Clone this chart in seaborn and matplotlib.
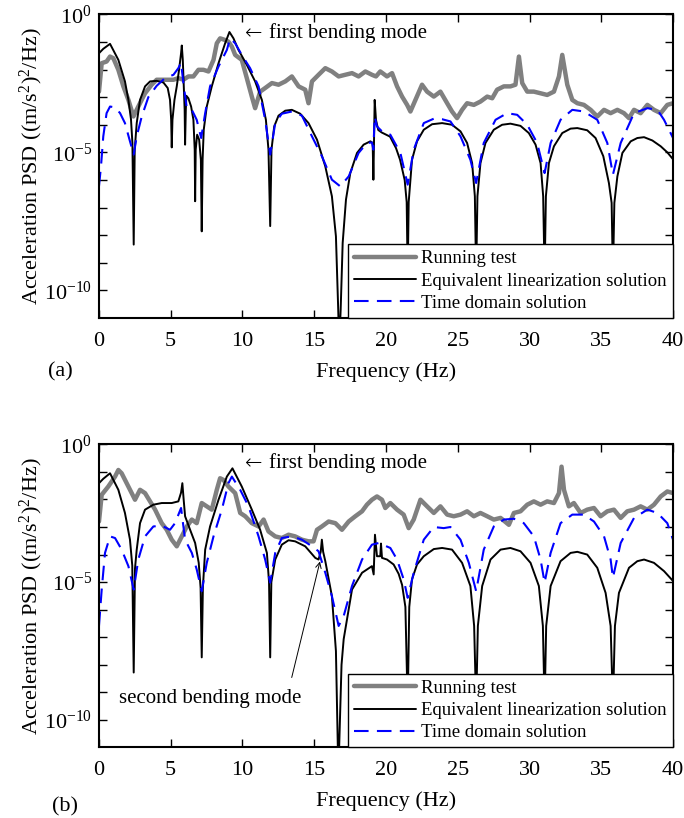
import numpy as np
import matplotlib
matplotlib.use('Agg')
import matplotlib.pyplot as plt
import seaborn as sns

### DATA (frequency in Hz, PSD given as log10) ###

# (a) running test
a_test_f = [0.0, 0.19, 0.53, 0.77, 1.0, 1.35, 1.70, 2.05, 2.40, 2.74, 3.21, 3.67, 4.02, 4.37, 4.72,
            5.19, 5.53, 5.88, 6.23, 6.58, 6.93, 7.28, 7.63, 7.98, 8.21, 8.44, 8.79, 9.02, 9.26, 9.49,
            9.95, 10.30, 10.65, 10.88, 11.23, 11.58, 12.05, 12.51, 12.98, 13.44, 13.91, 14.37, 14.60,
            14.84, 15.30, 15.77, 16.23, 16.70, 17.16, 17.63, 18.09, 18.56, 19.02, 19.30, 19.60, 20.07,
            20.42, 20.77, 21.12, 21.47, 21.70, 22.05, 22.51, 22.86, 23.33, 23.79, 24.26, 24.60, 24.95,
            25.30, 25.65, 26.12, 26.58, 27.05, 27.40, 27.74, 28.21, 28.67, 29.02, 29.26, 29.49, 29.84,
            30.30, 30.77, 31.23, 31.70, 32.05, 32.28, 32.63, 32.98, 33.33, 33.79, 34.26, 34.72, 35.19,
            35.65, 36.12, 36.58, 36.93, 37.28, 37.74, 38.21, 38.67, 39.14, 39.60, 40.0]
a_test_lg = [-2.80, -1.77, -1.71, -1.53, -1.59, -2.01, -2.61, -3.10, -3.70, -3.34, -2.86, -2.55, -2.37,
             -2.37, -2.37, -2.37, -2.31, -2.37, -2.25, -2.25, -2.01, -2.01, -2.07, -1.65, -1.05, -0.87,
             -0.93, -0.99, -1.17, -1.47, -1.65, -2.31, -2.98, -3.40, -2.80, -2.67, -2.49, -2.55, -2.43,
             -2.25, -2.61, -2.73, -3.22, -2.43, -2.19, -1.95, -2.07, -2.25, -2.19, -2.13, -2.25, -2.07,
             -2.19, -2.25, -2.07, -2.25, -2.13, -2.61, -2.98, -3.28, -3.52, -3.10, -2.55, -2.80, -2.98,
             -2.80, -3.22, -3.52, -3.76, -3.46, -3.22, -3.28, -3.16, -2.98, -3.04, -2.73, -2.61, -2.61,
             -2.55, -1.53, -2.49, -2.80, -2.80, -2.86, -2.92, -2.80, -2.25, -1.47, -2.55, -3.10, -3.22,
             -3.28, -3.46, -3.70, -3.46, -3.58, -3.46, -3.58, -3.76, -3.46, -3.58, -3.28, -3.46, -3.58,
             -3.28, -3.22]

# (a) equivalent linearization solution
a_eq_f = [0.0, 0.30, 0.77, 1.35, 1.81, 2.05, 2.23, 2.33, 2.42, 2.49, 2.63, 2.86, 3.21, 3.56, 4.02, 4.49,
          4.79, 4.95, 5.03, 5.07, 5.12, 5.26, 5.42, 5.58, 5.72, 5.77, 5.84, 5.91, 5.97, 6.00, 6.05, 6.09,
          6.23, 6.42, 6.58, 6.67, 6.70, 6.74, 6.84, 6.98, 7.10, 7.16, 7.22, 7.30, 7.51, 7.86, 8.33, 8.79,
          9.09, 9.37, 9.72, 10.30, 10.88, 11.35, 11.63, 11.81, 11.93, 12.02, 12.21, 12.51, 12.98, 13.44,
          14.02, 14.60, 15.19, 15.77, 16.23, 16.51, 16.67, 16.74, 16.84, 16.98, 17.21, 17.51, 17.98,
          18.44, 18.91, 19.07, 19.12, 19.16, 19.21, 19.30, 19.46, 19.70, 20.28, 20.70, 20.98, 21.30,
          21.44, 21.51, 21.58, 21.81, 22.16, 22.63, 23.21, 23.91, 24.60, 25.19, 25.65, 26.00, 26.19,
          26.28, 26.37, 26.58, 26.93, 27.51, 28.09, 28.67, 29.37, 29.95, 30.42, 30.77, 30.95, 31.05,
          31.14, 31.35, 31.70, 32.28, 32.86, 33.33, 34.02, 34.60, 35.14, 35.53, 35.72, 35.81, 35.91,
          36.12, 36.47, 37.05, 37.51, 37.98, 38.56, 39.14, 39.60, 40.0]
a_eq_lg = [-1.41, -1.25, -1.07, -1.65, -2.43, -3.10, -3.80, -4.66, -8.34, -4.90, -3.94, -3.10, -2.61,
           -2.43, -2.41, -2.47, -2.67, -3.10, -3.82, -4.82, -3.82, -3.10, -2.61, -2.01, -1.41, -1.13,
           -1.65, -2.61, -3.46, -4.72, -3.46, -2.95, -3.04, -3.34, -3.82, -4.90, -6.77, -4.90, -4.36,
           -4.54, -5.27, -7.86, -5.27, -4.18, -3.34, -2.61, -1.77, -1.05, -0.64, -0.87, -1.29, -1.83,
           -2.43, -3.10, -3.82, -4.90, -7.67, -4.90, -4.06, -3.67, -3.49, -3.46, -3.60, -3.94, -4.54,
           -5.51, -6.59, -8.04, -10.7, -12.0, -10.7, -8.28, -6.71, -5.75, -5.02, -4.72, -4.60, -4.66,
           -5.99, -4.66, -3.10, -3.82, -4.19, -4.28, -4.43, -4.85, -5.27, -6.00, -6.80, -9.50, -6.80,
           -5.27, -4.60, -4.18, -3.98, -3.94, -4.00, -4.24, -4.66, -5.39, -6.59, -9.50, -6.59, -5.39,
           -4.66, -4.18, -4.00, -3.96, -4.04, -4.30, -4.72, -5.39, -6.59, -9.50, -6.59, -5.39, -4.78,
           -4.30, -4.14, -4.12, -4.20, -4.48, -5.14, -6.11, -6.83, -9.50, -6.83, -5.87, -5.02, -4.60,
           -4.48, -4.45, -4.57, -4.78, -5.00, -5.25]

# (a) time domain solution
a_td_f = [0.0, 0.14, 0.30, 0.53, 0.77, 1.12, 1.47, 1.81, 2.16, 2.42, 2.63, 2.98, 3.44, 4.02, 4.60, 5.19,
          5.53, 5.72, 5.88, 6.12, 6.47, 6.81, 7.12, 7.40, 7.74, 8.33, 8.91, 9.14, 9.49, 9.95, 10.53,
          11.12, 11.58, 11.93, 12.28, 12.74, 13.44, 14.14, 14.84, 15.53, 16.23, 16.81, 17.40, 18.09,
          18.67, 19.02, 19.12, 19.21, 19.37, 19.72, 20.30, 21.0, 21.51, 21.93, 22.63, 23.33, 23.91,
          24.49, 25.19, 25.88, 26.28, 26.81, 27.63, 28.44, 29.14, 29.84, 30.53, 31.05, 31.47, 32.16,
          32.98, 33.79, 34.72, 35.42, 35.81, 36.35, 37.28, 38.21, 38.91, 39.37, 40.0]
a_td_lg = [-6.23, -5.51, -4.42, -3.58, -3.34, -3.37, -3.58, -3.94, -4.60, -5.08, -4.42, -3.70, -3.00,
           -2.59, -2.31, -2.19, -1.95, -1.75, -2.49, -3.40, -3.46, -3.82, -4.48, -3.58, -2.61, -1.89,
           -1.29, -0.87, -1.05, -1.47, -1.95, -2.61, -3.82, -5.08, -3.94, -3.60, -3.52, -3.67, -4.42,
           -5.14, -5.99, -6.23, -5.87, -5.02, -4.66, -4.64, -4.90, -3.70, -4.06, -4.24, -4.36, -5.02,
           -6.17, -4.90, -3.94, -3.78, -3.80, -3.88, -4.42, -5.27, -6.11, -4.66, -3.82, -3.58, -3.64,
           -4.00, -4.66, -5.75, -4.66, -3.82, -3.46, -3.52, -3.82, -4.66, -5.81, -4.66, -3.58, -3.40,
           -3.46, -3.82, -4.48]

# (b) running test
b_test_f = [0.0, 0.19, 0.65, 1.12, 1.35, 1.58, 1.93, 2.28, 2.51, 2.86, 3.21, 3.56, 3.91, 4.37, 4.72, 5.07,
            5.42, 5.77, 6.12, 6.47, 6.81, 7.16, 7.51, 7.86, 8.21, 8.44, 8.67, 9.02, 9.49, 9.84, 10.19,
            10.65, 11.12, 11.47, 11.81, 12.28, 12.74, 13.21, 13.67, 14.14, 14.60, 14.95, 15.19, 15.53,
            16.0, 16.47, 16.93, 17.40, 17.86, 18.33, 18.67, 19.02, 19.37, 19.72, 19.95, 20.30, 20.77,
            21.23, 21.58, 21.93, 22.40, 22.86, 23.33, 23.79, 24.26, 24.72, 25.19, 25.65, 26.12, 26.58,
            27.05, 27.51, 27.98, 28.56, 28.91, 29.37, 29.84, 30.30, 30.77, 31.23, 31.70, 32.05, 32.23,
            32.40, 32.74, 33.09, 33.56, 34.02, 34.49, 34.95, 35.42, 35.88, 36.35, 36.81, 37.28, 37.74,
            38.21, 38.67, 39.14, 39.60, 40.0]
b_test_lg = [-2.80, -1.83, -1.53, -1.17, -0.93, -1.05, -1.41, -1.77, -2.01, -1.65, -1.77, -2.07, -2.37,
             -2.86, -3.10, -3.46, -3.70, -3.34, -2.98, -2.73, -2.86, -2.13, -2.25, -2.37, -1.65, -1.23,
             -1.29, -1.53, -1.77, -2.49, -2.61, -2.86, -2.98, -2.73, -3.16, -3.34, -3.40, -3.28, -3.34,
             -3.46, -3.52, -3.52, -3.10, -2.98, -2.80, -2.86, -3.10, -2.80, -2.61, -2.43, -2.19, -2.01,
             -1.89, -2.01, -2.31, -2.13, -2.37, -2.55, -3.04, -2.73, -2.01, -2.25, -2.49, -2.25, -2.55,
             -2.61, -2.55, -2.43, -2.61, -2.49, -2.61, -2.73, -2.67, -2.92, -2.49, -2.43, -2.19, -2.07,
             -2.19, -2.07, -2.13, -1.77, -0.81, -1.65, -2.25, -2.13, -2.49, -2.37, -2.31, -2.61, -2.43,
             -2.37, -2.67, -2.43, -2.37, -2.25, -2.37, -2.19, -1.89, -1.71, -1.77]

# (b) equivalent linearization solution
b_eq_f = [0.0, 0.30, 0.77, 1.35, 1.81, 2.16, 2.32, 2.42, 2.51, 2.63, 2.86, 3.21, 3.79, 4.37, 5.07, 5.53,
          5.72, 5.81, 5.90, 6.00, 6.35, 6.70, 6.95, 7.08, 7.16, 7.24, 7.40, 7.74, 8.33, 8.91, 9.30, 9.95,
          10.65, 11.23, 11.70, 11.85, 11.93, 12.01, 12.28, 12.74, 13.21, 13.67, 14.37, 15.07, 15.30,
          15.45, 15.53, 15.62, 15.77, 16.23, 16.51, 16.68, 16.90, 17.05, 17.63, 18.33, 19.02, 19.14,
          19.23, 19.37, 19.60, 19.65, 19.72, 20.07, 20.53, 20.88, 21.12, 21.35, 21.51, 21.62, 21.81,
          22.16, 22.63, 23.33, 23.91, 24.60, 25.30, 25.88, 26.14, 26.28, 26.40, 26.70, 27.28, 27.98,
          28.67, 29.37, 30.07, 30.65, 30.93, 31.05, 31.16, 31.47, 32.16, 32.86, 33.33, 34.02, 34.72,
          35.30, 35.65, 35.81, 35.95, 36.23, 36.93, 37.51, 37.98, 38.67, 39.37, 40.0]
b_eq_lg = [-1.41, -1.25, -1.05, -1.65, -2.49, -3.46, -4.40, -8.28, -4.50, -3.82, -2.86, -2.37, -2.19,
           -2.13, -2.13, -2.07, -1.75, -1.41, -2.00, -2.61, -3.10, -3.58, -4.30, -5.20, -7.73, -5.20,
           -3.82, -2.98, -2.01, -1.17, -0.87, -1.53, -2.37, -3.10, -3.94, -5.00, -7.73, -5.00, -4.18,
           -3.64, -3.48, -3.52, -3.70, -4.12, -4.18, -3.90, -3.46, -3.90, -4.24, -5.51, -7.50, -12.0,
           -8.00, -7.07, -5.27, -4.66, -4.42, -4.72, -3.28, -4.06, -4.06, -3.60, -4.12, -4.18, -4.36,
           -4.70, -5.10, -5.90, -9.50, -5.90, -4.90, -4.36, -4.06, -3.80, -3.76, -3.82, -4.30, -5.14,
           -6.59, -9.50, -6.59, -5.14, -4.18, -3.82, -3.76, -3.88, -4.30, -5.14, -6.59, -9.50, -6.59,
           -5.14, -4.24, -3.94, -3.90, -4.00, -4.48, -5.39, -6.59, -9.50, -6.59, -5.39, -4.48, -4.24,
           -4.18, -4.30, -4.60, -4.96]

# (b) time domain solution
b_td_f = [0.0, 0.19, 0.42, 0.77, 1.12, 1.58, 2.05, 2.42, 2.74, 3.21, 3.79, 4.37, 4.95, 5.30, 5.72, 6.00,
          6.47, 6.81, 7.16, 7.51, 7.98, 8.56, 9.02, 9.26, 9.84, 10.42, 11.12, 11.58, 11.93, 12.28, 12.74,
          13.44, 14.14, 14.84, 15.30, 15.77, 16.23, 16.70, 17.05, 17.63, 18.33, 19.02, 19.49, 20.30,
          20.77, 21.23, 21.51, 21.93, 22.63, 23.33, 24.02, 24.49, 25.19, 25.77, 26.28, 26.81, 27.51,
          28.21, 28.91, 29.60, 30.30, 30.77, 31.05, 31.47, 32.16, 32.98, 33.79, 34.49, 35.19, 35.65,
          35.81, 36.35, 37.28, 38.21, 38.91, 39.60, 40.0]
b_td_lg = [-6.59, -5.27, -3.94, -3.34, -3.40, -3.82, -4.42, -5.27, -4.18, -3.34, -2.98, -2.95, -3.10,
           -2.86, -2.31, -3.46, -3.94, -4.54, -5.33, -4.30, -3.34, -2.37, -1.41, -1.17, -1.65, -2.25,
           -3.34, -4.18, -5.02, -3.94, -3.40, -3.34, -3.46, -3.70, -3.88, -4.66, -5.51, -6.59, -6.23,
           -5.14, -4.18, -3.64, -3.58, -3.76, -4.18, -4.90, -5.57, -4.66, -3.46, -3.00, -3.04, -3.00,
           -3.46, -4.30, -5.33, -3.82, -2.98, -2.73, -2.70, -2.86, -3.34, -4.18, -5.02, -3.94, -2.86,
           -2.55, -2.55, -2.80, -3.34, -4.18, -4.84, -3.58, -2.67, -2.37, -2.49, -2.86, -3.46]

labels = ['Running test', 'Equivalent linearization solution', 'Time domain solution']
x_ticks = [0, 5, 10, 15, 20, 25, 30, 35, 40]
y_decades = list(range(0, -11, -1))


### STYLE ###
sns.set_style('ticks')
plt.rcParams['font.family'] = ['Liberation Serif', 'DejaVu Serif']
plt.rcParams['mathtext.fontset'] = 'custom'
plt.rcParams['mathtext.rm'] = 'Liberation Serif'
plt.rcParams['mathtext.it'] = 'Liberation Serif:italic'
plt.rcParams['mathtext.bf'] = 'Liberation Serif:bold'
plt.rcParams['axes.edgecolor'] = 'black'
plt.rcParams['xtick.color'] = 'black'
plt.rcParams['ytick.color'] = 'black'
plt.rcParams['text.color'] = 'black'
plt.rcParams['axes.labelcolor'] = 'black'


def draw_panel(ax, test_f, test_lg, eq_f, eq_lg, td_f, td_lg):
    sns.lineplot(x=test_f, y=10 ** np.array(test_lg), ax=ax, color='#808080', lw=3.2,
                 label=labels[0], estimator=None, sort=False)
    sns.lineplot(x=eq_f, y=10 ** np.array(eq_lg), ax=ax, color='black', lw=1.4,
                 label=labels[1], estimator=None, sort=False)
    sns.lineplot(x=td_f, y=10 ** np.array(td_lg), ax=ax, color='#0000FF', lw=1.5,
                 linestyle=(0, (7, 4)), label=labels[2], estimator=None, sort=False)
    ax.set_yscale('log')
    ax.set_xlim(0, 40)
    ax.set_ylim(1e-11, 1)
    ax.set_xticks(x_ticks)
    ax.set_xticklabels([str(t) for t in x_ticks])
    ax.set_yticks([10.0 ** d for d in y_decades])
    ax.set_yticklabels(['$10^{%d}$' % d if d % 5 == 0 else '' for d in y_decades])
    ax.set_yticks([], minor=True)
    ax.tick_params(direction='in', top=True, right=True, length=5.5, width=1.0, labelsize=16)
    ax.tick_params(axis='x', pad=10)
    ax.tick_params(axis='y', pad=5)
    for s in ax.spines.values():
        s.set_linewidth(1.5)
        s.set_visible(True)
    ax.set_xlabel('Frequency (Hz)', fontsize=16, labelpad=8)
    ax.set_ylabel('Acceleration PSD ((m/s$^2$)$^2$/Hz)', fontsize=16, labelpad=-1)
    leg = ax.legend(loc='lower right', fontsize=13.5, frameon=True, fancybox=False, framealpha=1,
                    edgecolor='black', borderaxespad=0, handlelength=3.3, handletextpad=0.3,
                    labelspacing=0.28, borderpad=0.32)
    leg.get_frame().set_linewidth(1.0)
    # arrow glyph in a font that draws it long and thin, then the words
    ax.text(10.17, 10 ** -0.68, '\u2190', fontsize=15, va='center',
            family=['DejaVu Sans', 'Liberation Serif'], fontweight='light')
    ax.text(11.85, 10 ** -0.68, 'first bending mode', fontsize=15, va='center')


fig = plt.figure(figsize=(6.84, 8.18), dpi=100)
ax1 = fig.add_axes([0.1447, 0.6112, 0.8393, 0.3713])
ax2 = fig.add_axes([0.1447, 0.0862, 0.8393, 0.3706])

draw_panel(ax1, a_test_f, a_test_lg, a_eq_f, a_eq_lg, a_td_f, a_td_lg)
draw_panel(ax2, b_test_f, b_test_lg, b_eq_f, b_eq_lg, b_td_f, b_td_lg)

ax2.annotate('', xy=(15.4, 10 ** -4.25), xytext=(13.43, 10 ** -8.46),
             arrowprops=dict(arrowstyle='->', color='black', lw=0.7, shrinkA=0, shrinkB=0))
ax2.text(1.39, 10 ** -9.21, 'second bending mode', fontsize=15, va='center')

fig.text(48 / 684, 1 - 372 / 818, '(a)', fontsize=16, va='center')
fig.text(52 / 684, 1 - 807 / 818, '(b)', fontsize=16, va='center')

fig.savefig('out.png', dpi=100)
